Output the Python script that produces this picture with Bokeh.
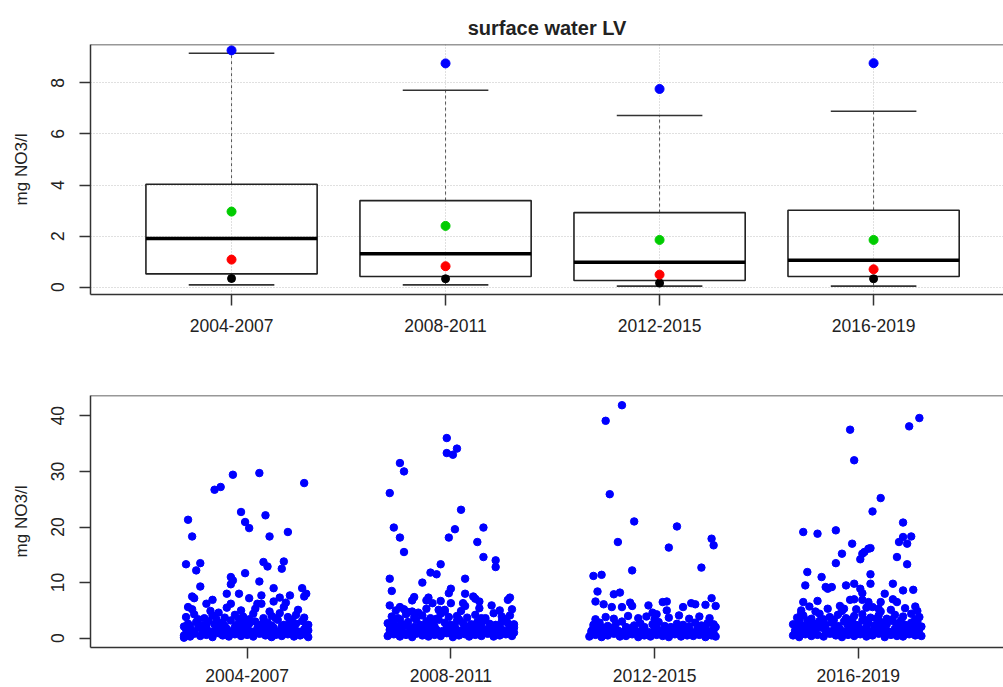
from bokeh.plotting import figure
from bokeh.models import FixedTicker, Range1d, Span
from bokeh.layouts import column
from bokeh.embed import file_html
from bokeh.resources import INLINE

# ---------------- data ----------------
periods = ["2004-2007", "2008-2011", "2012-2015", "2016-2019"]
cat_pos = [1, 2, 3, 4]

# box plot statistics (mg NO3/l)
q1 = [0.52, 0.42, 0.26, 0.42]
median = [1.91, 1.31, 0.98, 1.05]
q3 = [4.03, 3.39, 2.92, 3.01]
whisker_low = [0.09, 0.09, 0.04, 0.04]
whisker_high = [9.16, 7.71, 6.72, 6.89]
stat_blue = [9.27, 8.76, 7.76, 8.77]
stat_green = [2.96, 2.40, 1.85, 1.85]
stat_red = [1.08, 0.82, 0.49, 0.70]
stat_black = [0.34, 0.33, 0.16, 0.33]

# individual measurements (x = jittered period position, y = mg NO3/l)
obs_2004_2007 = [
    (0.69, 0.5), (0.72, 0.3), (0.74, 0.8), (0.77, 0.4), (0.80, 0.6), (0.83, 0.2), (0.86, 0.9), (0.88, 0.5),
    (0.91, 0.3), (0.94, 0.7), (0.97, 0.4), (1.00, 0.6), (1.03, 0.3), (1.06, 0.8), (1.09, 0.5), (1.12, 0.2),
    (1.14, 0.6), (1.17, 0.4), (1.20, 0.7), (1.23, 0.3), (1.26, 0.5), (1.29, 0.6),
    (0.71, 1.0), (0.74, 1.1), (0.78, 0.9), (0.81, 1.0), (0.84, 1.1), (0.87, 0.9), (0.91, 1.0), (0.95, 1.1),
    (0.98, 0.9), (1.01, 1.0), (1.04, 1.1), (1.07, 0.9), (1.10, 1.0), (1.13, 1.1), (1.16, 0.9), (1.19, 1.0),
    (1.22, 1.1), (1.25, 0.9), (1.28, 1.0),
    (0.70, 1.6), (0.73, 1.3), (0.76, 1.9), (0.79, 1.5), (0.82, 1.2), (0.85, 1.8), (0.87, 1.4), (0.90, 1.7),
    (0.93, 1.3), (0.96, 2.0), (0.99, 1.5), (1.02, 1.2), (1.05, 1.8), (1.08, 1.4), (1.11, 1.6), (1.13, 1.9),
    (1.16, 1.3), (1.19, 1.7), (1.22, 1.5), (1.25, 1.2), (1.28, 1.6), (1.30, 1.4),
    (0.69, 2.1), (0.72, 2.2), (0.77, 2.0), (0.80, 2.3), (0.86, 2.1), (0.89, 2.2), (0.94, 2.0), (0.97, 2.3),
    (1.00, 2.1), (1.06, 2.2), (1.09, 2.0), (1.12, 2.3), (1.17, 2.1), (1.20, 2.2), (1.23, 2.0), (1.29, 2.2),
    (0.71, 2.6), (0.75, 2.9), (0.78, 2.3), (0.81, 3.1), (0.84, 2.5), (0.88, 2.8), (0.92, 3.2), (0.95, 2.4),
    (0.98, 2.9), (1.01, 2.6), (1.04, 3.0), (1.07, 2.5), (1.10, 2.8), (1.15, 3.3), (1.18, 2.4), (1.21, 2.9),
    (1.24, 2.6), (1.27, 3.1), (1.30, 2.4),
    (0.76, 3.4), (0.85, 3.3), (0.96, 3.5), (1.01, 3.4), (1.14, 3.6), (1.22, 3.3), (0.69, 0.1), (1.30, 0.2),
    (0.70, 3.8), (0.74, 4.3), (0.79, 3.6), (0.83, 4.1), (0.86, 4.6), (0.89, 3.7), (0.94, 4.2), (0.98, 3.9),
    (1.03, 4.4), (1.08, 3.6), (1.12, 4.0), (1.16, 4.5), (1.20, 3.8), (1.24, 4.2), (1.28, 3.7),
    (0.73, 5.2), (0.82, 4.9), (0.90, 5.5), (0.97, 5.0), (1.04, 5.3), (1.11, 4.8), (1.18, 5.6), (1.25, 5.1),
    (0.93, 29.4), (1.06, 29.7), (1.28, 27.9), (0.84, 26.7), (0.87, 27.2), (0.71, 21.3), (0.73, 18.3),
    (0.97, 22.7), (0.99, 20.9), (1.01, 19.8), (1.09, 22.1), (1.11, 18.3), (1.20, 19.1), (0.70, 13.3),
    (0.75, 12.2), (0.77, 13.5), (1.08, 13.7), (1.10, 12.9), (1.18, 13.8), (1.17, 12.5), (0.99, 11.7),
    (0.92, 11.0), (0.93, 10.4), (0.92, 9.7), (0.77, 9.3), (1.06, 10.2), (1.13, 9.0), (1.27, 9.0),
    (1.29, 8.0), (0.73, 7.5), (0.74, 7.2), (0.90, 8.0), (0.96, 8.0), (1.01, 7.2), (1.07, 7.7), (1.16, 7.3),
    (1.21, 7.7), (1.28, 7.5), (0.83, 6.9), (0.80, 6.2), (0.92, 6.2), (1.05, 6.2), (1.07, 6.2), (1.13, 6.6),
    (1.19, 6.4), (0.71, 5.6),
]
obs_2008_2011 = [
    (1.69, 0.4), (1.72, 0.7), (1.75, 0.3), (1.78, 0.6), (1.81, 0.2), (1.83, 0.8), (1.86, 0.5), (1.89, 0.3),
    (1.92, 0.6), (1.95, 0.4), (1.98, 0.9), (2.01, 0.2), (2.04, 0.5), (2.07, 0.7), (2.09, 0.3), (2.12, 0.6),
    (2.15, 0.4), (2.18, 0.8), (2.21, 0.3), (2.24, 0.5), (2.27, 0.7), (2.30, 0.4),
    (1.70, 1.0), (1.74, 1.1), (1.77, 0.9), (1.80, 1.0), (1.85, 1.1), (1.88, 0.9), (1.91, 1.0), (1.94, 1.1),
    (1.97, 1.0), (2.00, 0.9), (2.03, 1.1), (2.06, 1.0), (2.10, 0.9), (2.13, 1.1), (2.16, 1.0), (2.19, 0.9),
    (2.22, 1.1), (2.25, 1.0), (2.28, 0.9), (2.31, 1.0),
    (1.70, 1.5), (1.73, 1.9), (1.76, 1.3), (1.80, 1.7), (1.84, 1.4), (1.87, 1.2), (1.90, 1.8), (1.93, 1.5),
    (1.96, 1.3), (1.99, 1.6), (2.02, 2.0), (2.05, 1.4), (2.08, 1.7), (2.11, 1.2), (2.14, 1.9), (2.17, 1.5),
    (2.20, 1.3), (2.23, 1.8), (2.26, 1.4), (2.29, 1.6), (2.31, 1.9),
    (1.70, 2.2), (1.74, 2.1), (1.78, 2.3), (1.82, 2.0), (1.87, 2.2), (1.92, 2.1), (1.98, 2.3), (2.01, 2.0),
    (2.07, 2.2), (2.11, 2.1), (2.15, 2.3), (2.20, 2.0), (2.24, 2.2), (2.29, 2.1),
    (1.69, 2.7), (1.72, 3.1), (1.76, 2.5), (1.79, 2.9), (1.85, 2.4), (1.88, 3.0), (1.91, 2.6), (1.94, 3.3),
    (1.97, 2.8), (2.00, 2.4), (2.03, 3.1), (2.06, 2.7), (2.10, 2.5), (2.13, 2.9), (2.16, 3.2), (2.19, 2.6),
    (2.22, 2.4), (2.25, 3.0), (2.28, 2.7), (2.31, 2.5),
    (1.75, 3.4), (1.83, 3.3), (1.93, 3.5), (2.04, 3.4), (2.15, 3.6), (2.27, 3.4),
    (1.71, 3.9), (1.74, 3.6), (1.78, 4.3), (1.82, 3.7), (1.86, 4.1), (1.90, 3.6), (1.95, 4.4), (1.99, 3.8),
    (2.03, 4.0), (2.08, 3.7), (2.12, 4.2), (2.17, 3.6), (2.21, 4.5), (2.25, 3.9), (2.29, 4.1),
    (1.73, 5.0), (1.81, 4.8), (1.88, 5.3), (1.97, 5.1), (2.05, 4.9), (2.14, 5.4), (2.24, 5.0), (2.30, 5.2),
    (1.98, 36.0), (1.98, 33.3), (2.01, 33.0), (2.03, 34.1), (1.75, 31.5), (1.77, 30.0), (1.70, 26.1),
    (2.05, 23.1), (1.72, 19.9), (1.75, 18.1), (1.77, 15.5), (1.99, 18.1), (2.02, 19.6), (2.16, 19.9),
    (2.13, 17.3), (2.16, 14.6), (2.22, 14.0), (2.22, 12.8), (1.70, 10.7), (1.71, 8.5), (1.95, 13.3),
    (1.90, 11.8), (1.93, 11.5), (1.86, 10.0), (2.07, 10.7), (2.00, 8.9), (1.99, 8.1), (2.07, 8.0),
    (2.11, 7.5), (2.12, 7.1), (1.82, 7.4), (1.81, 6.8), (1.89, 7.3), (1.88, 6.8), (1.95, 6.7), (1.70, 5.9),
    (1.75, 5.6), (1.77, 5.2), (1.91, 6.3), (2.00, 6.3), (2.07, 5.8), (2.06, 6.3), (2.14, 6.6), (2.20, 5.9),
    (2.29, 7.3), (2.28, 6.9), (1.79, 4.7), (1.84, 4.6), (1.94, 5.1), (1.97, 4.8),
]
obs_2012_2015 = [
    (2.68, 0.3), (2.71, 0.6), (2.74, 0.2), (2.77, 0.5), (2.80, 0.8), (2.83, 0.3), (2.86, 0.4), (2.89, 0.7),
    (2.92, 0.2), (2.95, 0.5), (2.98, 0.3), (3.01, 0.6), (3.04, 0.4), (3.07, 0.2), (3.10, 0.7), (3.13, 0.3),
    (3.16, 0.5), (3.19, 0.4), (3.22, 0.6), (3.25, 0.2), (3.28, 0.5), (3.30, 0.3),
    (2.69, 0.9), (2.73, 1.0), (2.76, 0.8), (2.81, 0.9), (2.84, 1.0), (2.87, 0.8), (2.90, 1.0), (2.93, 0.9),
    (2.96, 0.8), (2.99, 1.0), (3.02, 0.9), (3.05, 0.8), (3.08, 1.0), (3.11, 0.9), (3.14, 0.8), (3.17, 1.0),
    (3.20, 0.9), (3.23, 0.8), (3.26, 1.0), (3.29, 0.9),
    (2.69, 1.3), (2.72, 1.6), (2.75, 1.1), (2.79, 1.8), (2.82, 1.4), (2.85, 1.2), (2.88, 1.7), (2.91, 1.3),
    (2.94, 1.5), (2.97, 1.1), (3.00, 1.6), (3.03, 1.4), (3.06, 1.2), (3.09, 1.8), (3.12, 1.3), (3.15, 1.5),
    (3.18, 1.1), (3.21, 1.7), (3.24, 1.4), (3.27, 1.2), (3.29, 1.6),
    (2.70, 1.9), (2.74, 2.0), (2.78, 1.8), (2.86, 2.0), (2.89, 1.9), (2.95, 2.0), (3.01, 1.8), (3.08, 2.0),
    (3.13, 1.9), (3.17, 2.1), (3.25, 1.9), (3.30, 2.0),
    (2.70, 2.4), (2.73, 2.8), (2.77, 2.2), (2.81, 2.6), (2.84, 3.0), (2.90, 2.3), (2.93, 2.7), (2.99, 2.5),
    (3.02, 2.9), (3.05, 2.2), (3.11, 2.6), (3.14, 2.4), (3.20, 2.8), (3.23, 2.3), (3.26, 2.7), (3.29, 2.5),
    (2.71, 3.4), (2.76, 3.8), (2.80, 3.5), (2.87, 4.0), (2.92, 3.6), (2.96, 3.9), (3.00, 3.4), (3.07, 3.7),
    (3.12, 4.1), (3.17, 3.5), (3.22, 3.9), (3.27, 3.6),
    (2.84, 41.9), (2.76, 39.1), (2.78, 25.9), (2.90, 21.0), (3.11, 20.1), (2.82, 17.3), (3.07, 16.3),
    (3.28, 17.9), (3.29, 16.7), (2.89, 12.2), (3.23, 12.7), (2.70, 11.2), (2.74, 11.4), (2.72, 8.4),
    (2.80, 7.9), (2.83, 8.2), (2.71, 6.6), (2.88, 6.4), (2.89, 5.8), (2.97, 5.9), (3.04, 6.5), (3.06, 6.6),
    (3.06, 5.0), (3.18, 6.3), (3.20, 6.1), (3.25, 6.0), (3.28, 7.2), (3.30, 5.8), (2.75, 6.1), (2.79, 5.6),
    (2.84, 5.6), (3.14, 5.6), (2.99, 4.6), (3.01, 4.3),
]
obs_2016_2019 = [
    (3.68, 0.5), (3.71, 0.2), (3.74, 0.7), (3.77, 0.4), (3.80, 0.6), (3.83, 0.3), (3.86, 0.8), (3.89, 0.5),
    (3.92, 0.2), (3.95, 0.6), (3.98, 0.4), (4.01, 0.7), (4.04, 0.3), (4.07, 0.5), (4.10, 0.8), (4.13, 0.2),
    (4.16, 0.6), (4.19, 0.4), (4.22, 0.3), (4.25, 0.7), (4.28, 0.5), (4.31, 0.4),
    (3.69, 1.0), (3.72, 1.1), (3.76, 0.9), (3.79, 1.0), (3.84, 1.1), (3.87, 0.9), (3.90, 1.0), (3.93, 1.1),
    (3.96, 0.9), (3.99, 1.0), (4.02, 1.1), (4.05, 0.9), (4.08, 1.0), (4.11, 1.1), (4.14, 0.9), (4.17, 1.0),
    (4.20, 1.1), (4.23, 0.9), (4.26, 1.0), (4.29, 1.1),
    (3.69, 1.4), (3.72, 1.8), (3.75, 1.2), (3.78, 1.6), (3.82, 1.9), (3.85, 1.3), (3.88, 1.5), (3.91, 1.7),
    (3.94, 1.2), (3.97, 1.9), (4.00, 1.4), (4.03, 1.6), (4.06, 1.3), (4.09, 1.8), (4.12, 1.5), (4.15, 1.2),
    (4.18, 1.7), (4.21, 1.4), (4.24, 1.9), (4.27, 1.3), (4.30, 1.6),
    (3.70, 2.1), (3.73, 2.0), (3.76, 2.2), (3.80, 2.0), (3.83, 2.1), (3.89, 2.0), (3.95, 2.2), (4.00, 2.1),
    (4.04, 2.0), (4.10, 2.2), (4.13, 2.0), (4.19, 2.1), (4.25, 2.2), (4.28, 2.0), (4.31, 2.1),
    (3.68, 2.5), (3.71, 2.9), (3.74, 2.3), (3.78, 2.7), (3.81, 3.1), (3.84, 2.4), (3.87, 2.8), (3.90, 2.2),
    (3.93, 3.0), (3.96, 2.6), (3.99, 2.4), (4.02, 3.2), (4.05, 2.7), (4.08, 2.3), (4.11, 2.9), (4.14, 2.5),
    (4.17, 3.1), (4.20, 2.6), (4.23, 2.4), (4.26, 2.8), (4.29, 3.0),
    (3.71, 3.3), (3.75, 3.2), (3.83, 3.4), (3.88, 3.3), (3.97, 3.4), (4.03, 3.3), (4.09, 3.5), (4.16, 3.3),
    (4.21, 3.2), (4.28, 3.4),
    (3.70, 3.7), (3.73, 4.1), (3.77, 3.5), (3.81, 4.4), (3.86, 3.8), (3.90, 4.2), (3.94, 3.6), (3.98, 4.0),
    (4.02, 4.3), (4.06, 3.7), (4.10, 4.1), (4.14, 3.5), (4.18, 4.2), (4.22, 3.9), (4.26, 4.4), (4.30, 3.8),
    (3.72, 5.0), (3.79, 4.8), (3.85, 5.3), (3.92, 4.9), (3.99, 5.2), (4.04, 5.5), (4.11, 4.8), (4.16, 5.1),
    (4.23, 5.4), (4.29, 4.9),
    (3.96, 37.5), (3.98, 32.0), (4.25, 38.1), (4.30, 39.6), (4.11, 25.2), (4.07, 22.8), (4.22, 20.8),
    (3.73, 19.1), (3.80, 18.8), (3.89, 19.4), (3.97, 17.0), (4.22, 18.2), (4.20, 17.3), (4.24, 17.0),
    (4.26, 18.3), (4.05, 16.1), (4.06, 16.2), (4.03, 15.5), (4.02, 15.2), (3.92, 15.2), (4.19, 14.6),
    (4.01, 14.2), (3.89, 13.5), (4.24, 13.3), (3.75, 11.9), (3.82, 11.0), (4.06, 11.5), (3.74, 9.5),
    (3.84, 9.2), (3.85, 8.9), (3.87, 9.2), (3.94, 9.5), (3.98, 9.8), (4.06, 9.8), (4.17, 9.8), (4.22, 8.6),
    (4.27, 8.7), (4.01, 8.9), (4.02, 8.1), (4.13, 8.0), (3.73, 6.5), (3.80, 6.7), (3.91, 5.8), (3.93, 5.3),
    (3.96, 6.9), (3.98, 7.0), (4.02, 6.9), (4.05, 6.5), (4.11, 6.5), (4.17, 7.0), (4.19, 6.5), (4.28, 5.7),
    (4.07, 5.6), (4.10, 5.3), (3.72, 4.5), (3.76, 5.7),
]

top_yticks = [0, 2, 4, 6, 8]
bottom_yticks = [0, 10, 20, 30, 40]

# ---------------- styling helpers ----------------
FONT = "Liberation Sans"
FRAME = "#333333"
TXT = "#222222"
labels = {c: lab for c, lab in zip(cat_pos, periods)}


def style(p, yticks, ytop, xtick):
    p.outline_line_color = None
    p.background_fill_color = "white"
    p.border_fill_color = "white"
    for ax in (p.xaxis[0], p.yaxis[0]):
        ax.axis_line_color = FRAME
        ax.axis_line_width = 1.5
        ax.major_tick_line_color = FRAME
        ax.major_tick_line_width = 1.5
        ax.major_tick_in = 0
        ax.minor_tick_line_color = None
        ax.major_label_text_font = FONT
        ax.major_label_text_color = TXT
        ax.major_label_text_font_size = "17.5px"
    p.xaxis[0].ticker = FixedTicker(ticks=cat_pos)
    p.xaxis[0].major_label_overrides = labels
    p.xaxis[0].major_tick_out = xtick[0]
    p.xaxis[0].major_label_standoff = xtick[1]
    p.yaxis[0].ticker = FixedTicker(ticks=yticks)
    p.yaxis[0].major_tick_out = 11
    p.yaxis[0].major_label_standoff = 15
    p.yaxis[0].major_label_orientation = "vertical"
    p.yaxis[0].axis_label = "mg NO3/l"
    p.yaxis[0].axis_label_text_font = FONT
    p.yaxis[0].axis_label_text_font_size = "17px"
    p.yaxis[0].axis_label_text_font_style = "normal"
    p.yaxis[0].axis_label_text_color = TXT
    p.yaxis[0].axis_label_standoff = 18
    p.add_layout(Span(location=ytop, dimension="width", line_color=FRAME, line_width=1.5))


# ---------------- top: box plot ----------------
p1 = figure(width=1003, height=345, x_range=Range1d(0.341, 4.607), y_range=Range1d(-0.286, 9.50),
            output_backend="svg", toolbar_location=None,
            min_border_left=90, min_border_right=0, min_border_top=44, min_border_bottom=51,
            title="surface water LV")
p1.title.text_font = FONT
p1.title.text_font_size = "20px"
p1.title.text_font_style = "bold"
p1.title.text_color = TXT
p1.title.align = "center"
p1.title.standoff = 12
style(p1, top_yticks, 9.50, (11, 13))
p1.xgrid.ticker = FixedTicker(ticks=cat_pos)
p1.ygrid.ticker = FixedTicker(ticks=top_yticks)
for g in (p1.xgrid[0], p1.ygrid[0]):
    g.grid_line_color = "#c0c0c0"
    g.grid_line_dash = "1 2"
    g.grid_line_width = 1

half_box = 0.4
half_cap = 0.2
left = [c - half_box for c in cat_pos]
right = [c + half_box for c in cat_pos]
cap_l = [c - half_cap for c in cat_pos]
cap_r = [c + half_cap for c in cat_pos]

# whiskers (dashed)
p1.segment(x0=cat_pos, y0=q3, x1=cat_pos, y1=whisker_high, line_color="#555555", line_dash="3 3", line_width=1)
p1.segment(x0=cat_pos, y0=q1, x1=cat_pos, y1=whisker_low, line_color="#555555", line_dash="3 3", line_width=1)
# caps
p1.segment(x0=cap_l, y0=whisker_high, x1=cap_r, y1=whisker_high, line_color="#333333", line_width=1.6)
p1.segment(x0=cap_l, y0=whisker_low, x1=cap_r, y1=whisker_low, line_color="#333333", line_width=1.6)
# boxes
p1.quad(left=left, right=right, bottom=q1, top=q3, fill_alpha=0, line_color="#222222", line_width=1.6)
# medians
p1.segment(x0=left, y0=median, x1=right, y1=median, line_color="black", line_width=3.5)
# statistic points
p1.scatter(cat_pos, stat_black, marker="circle", size=8, color="black")
p1.scatter(cat_pos, stat_red, marker="circle", size=9, color="#FF0000")
p1.scatter(cat_pos, stat_green, marker="circle", size=9, color="#00CC00")
p1.scatter(cat_pos, stat_blue, marker="circle", size=9, color="#0000FF")

# ---------------- bottom: scatter ----------------
p2 = figure(width=1003, height=342, x_range=Range1d(0.231, 4.713), y_range=Range1d(-1.67, 43.65),
            output_backend="svg", toolbar_location=None,
            min_border_left=90, min_border_right=0, min_border_top=50, min_border_bottom=40)
style(p2, bottom_yticks, 43.65, (11, 10))
p2.xgrid.grid_line_color = None
p2.ygrid.grid_line_color = None

for obs in (obs_2004_2007, obs_2008_2011, obs_2012_2015, obs_2016_2019):
    xs = [o[0] for o in obs]
    ys = [o[1] for o in obs]
    p2.scatter(xs, ys, marker="circle", size=7.5, color="#0000FF")

layout = column(p1, p2, spacing=0)
open("out.html", "w").write(file_html(layout, INLINE))
